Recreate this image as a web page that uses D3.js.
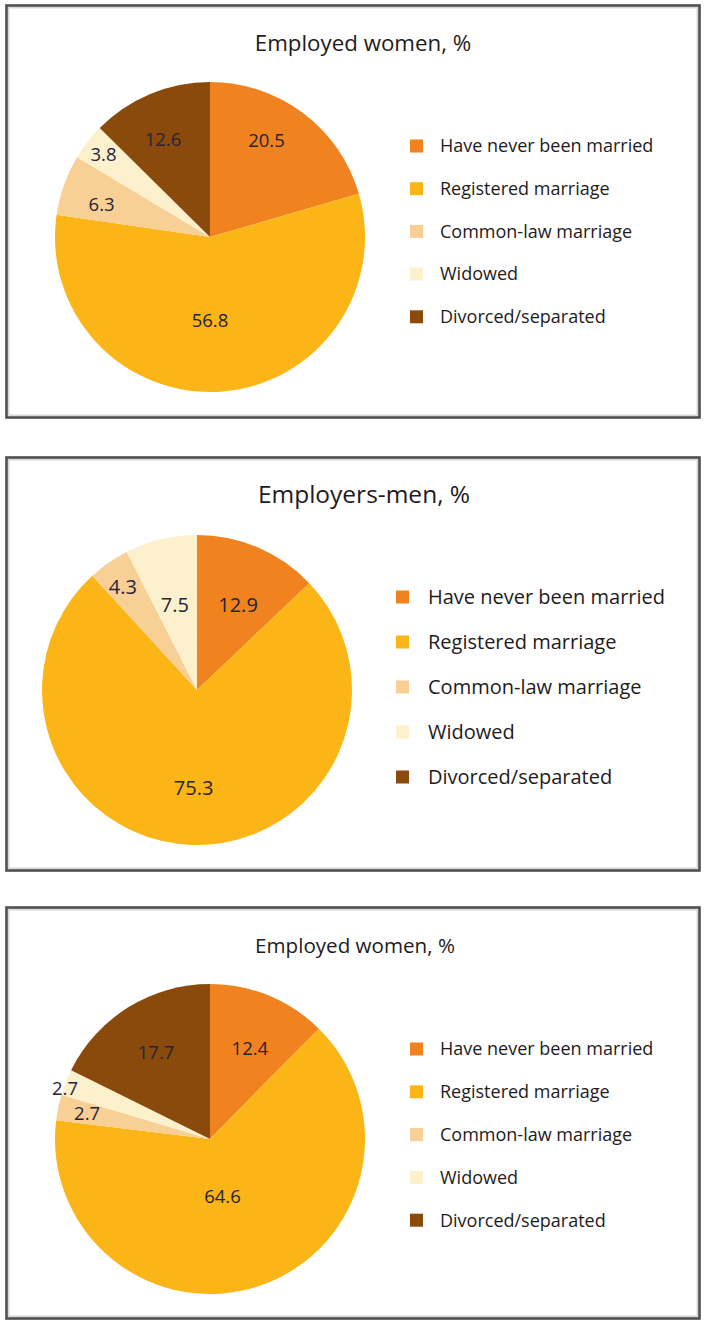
<!DOCTYPE html>
<html>
<head>
<meta charset="utf-8">
<script src="https://cdn.jsdelivr.net/npm/d3@7/dist/d3.min.js"></script>
<style>
  html, body { margin: 0; padding: 0; background: #ffffff; }
  svg { display: block; }
  text { font-family: "Open Sans", "Noto Sans", sans-serif; }
</style>
</head>
<body>
<svg id="chart" width="705" height="1322"></svg>
<script>
// Marital status categories, in slice order (clockwise from 12 o'clock)
const categories = [
  "Have never been married",
  "Registered marriage",
  "Common-law marriage",
  "Widowed",
  "Divorced/separated"
];

// Chart titles
const titles = ["Employed women, %", "Employers-men, %", "Employed women, %"];

// Shares, %, one array per chart
const employedWomenA = [20.5, 56.8, 6.3, 3.8, 12.6];
const employersMen   = [12.9, 75.3, 4.3, 7.5, 0];
const employedWomenB = [12.4, 64.6, 2.7, 2.7, 17.7];

const seriesList = [employedWomenA, employersMen, employedWomenB];

// Slice colours
const palette = ["#F0831F", "#FBB516", "#F8CF95", "#FDF0CC", "#8A4A0B"];

// Panel layout (frame, pie centre, title, legend, value labels)
const panels = [
  { top: 5, height: 412, cx: 210, cy: 237, r: 155,
    titleX: 363, titleSize: 22.3, labelSize: 18.5,
    legendX: 410, legendTextX: 440, legendY: 146, legendStep: 42.7, legendSize: 18,
    labelPos: [[0.72, -6.5], [0.54, 4], [0.73, -3], [0.87, 0], [0.70, -3]] },
  { top: 457, height: 413, cx: 197, cy: 690, r: 155,
    titleX: 364, titleSize: 24.5, labelSize: 20,
    legendX: 396, legendTextX: 428, legendY: 597, legendStep: 45, legendSize: 20,
    labelPos: [[0.61, 2.5], [0.63, 0], [0.82, -1], [0.57, -1], [0.7, 0]] },
  { top: 907, height: 411, cx: 210, cy: 1139, r: 155,
    titleX: 355, titleSize: 20.6, labelSize: 18.5,
    legendX: 410, legendTextX: 440, legendY: 1049, legendStep: 42.8, legendSize: 18,
    labelPos: [[0.64, 1.4], [0.38, 7], [0.81, 0], [0.99, -2.4], [0.66, 0]] }
];

const svg = d3.select("#chart");
const color = d3.scaleOrdinal().domain(categories).range(palette);
const pie = d3.pie().sort(null).value(d => d.value);
const toRad = Math.PI / 180;

panels.forEach((p, i) => {
  const g = svg.append("g");

  // Frame: dark outer line with a light inner edge
  g.append("rect")
    .attr("x", 6.5).attr("y", p.top + 0.5)
    .attr("width", 693).attr("height", p.height)
    .attr("fill", "#ffffff")
    .attr("stroke", "#4f4f4f").attr("stroke-width", 2.6);
  g.append("rect")
    .attr("x", 8.8).attr("y", p.top + 2.8)
    .attr("width", 688.4).attr("height", p.height - 4.6)
    .attr("fill", "none")
    .attr("stroke", "#c4c4c4").attr("stroke-width", 1);

  // Title
  g.append("text")
    .attr("x", p.titleX).attr("y", p.top + 46)
    .attr("text-anchor", "middle")
    .attr("font-size", p.titleSize)
    .attr("fill", "#1e1b1c")
    .text(titles[i]);

  const rows = categories.map((c, j) => ({ category: c, value: seriesList[i][j] }));
  const arcs = pie(rows);
  const arc = d3.arc().innerRadius(0).outerRadius(p.r);

  const pieG = g.append("g").attr("transform", `translate(${p.cx},${p.cy})`);

  pieG.selectAll("path.slice")
    .data(arcs.filter(a => a.data.value > 0))
    .join("path")
    .attr("class", "slice")
    .attr("d", arc)
    .attr("fill", a => color(a.data.category));

  // Value labels placed along each slice's bisector
  pieG.selectAll("text.value")
    .data(arcs.map((a, j) => ({ a, pos: p.labelPos[j] })).filter(d => d.a.data.value > 0))
    .join("text")
    .attr("class", "value")
    .attr("transform", d => {
      const k = d.pos[0] * p.r;
      const mid = (d.a.startAngle + d.a.endAngle) / 2 + d.pos[1] * toRad;
      const c = d3.arc().innerRadius(k).outerRadius(k).centroid({ startAngle: mid, endAngle: mid });
      return `translate(${c[0]},${c[1]})`;
    })
    .attr("text-anchor", "middle")
    .attr("dy", "0.36em")
    .attr("font-size", p.labelSize)
    .attr("fill", "#25243a")
    .text(d => d3.format(".1f")(d.a.data.value));

  // Legend
  const leg = g.selectAll("g.legend")
    .data(categories)
    .join("g")
    .attr("class", "legend")
    .attr("transform", (c, j) => `translate(0,${p.legendY + j * p.legendStep})`);

  leg.append("rect")
    .attr("x", p.legendX).attr("y", -6.5)
    .attr("width", 13).attr("height", 13)
    .attr("fill", c => color(c));

  leg.append("text")
    .attr("x", p.legendTextX)
    .attr("dy", "0.35em")
    .attr("font-size", p.legendSize)
    .attr("fill", "#1e1b1c")
    .text(c => c);
});
</script>
</body>
</html>
